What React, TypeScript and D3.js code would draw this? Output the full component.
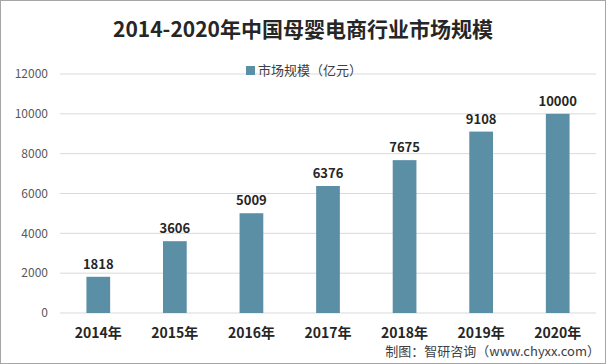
import React, { useEffect, useRef } from 'react';
import * as d3 from 'd3';

const years = ['2014年', '2015年', '2016年', '2017年', '2018年', '2019年', '2020年'];
const marketSize = [1818, 3606, 5009, 6376, 7675, 9108, 10000];
const yTicks = [0, 2000, 4000, 6000, 8000, 10000, 12000];

const FONT = '"Noto Sans CJK SC", "Liberation Sans", sans-serif';

const App = () => {
  const svgRef = useRef<SVGSVGElement>(null);

  useEffect(() => {
    const width = 606;
    const height = 364;
    const margin = { top: 74, right: 10, bottom: 51, left: 60 };

    const svg = d3.select(svgRef.current);
    svg.selectAll('*').remove();

    // border
    svg.append('rect')
      .attr('x', 0.5).attr('y', 0.5)
      .attr('width', width - 1).attr('height', height - 1)
      .attr('fill', '#fff')
      .attr('stroke', '#a6a6a6');

    const xScale = d3.scaleBand()
      .domain(years)
      .range([margin.left, width - margin.right])
      .paddingInner(0.69)
      .paddingOuter(0.345);

    const yScale = d3.scaleLinear()
      .domain([0, 12000])
      .range([height - margin.bottom, margin.top]);

    // gridlines
    svg.append('g')
      .selectAll('line')
      .data(yTicks)
      .join('line')
      .attr('x1', margin.left)
      .attr('x2', width - margin.right)
      .attr('y1', d => yScale(d))
      .attr('y2', d => yScale(d))
      .attr('stroke', '#d9d9d9')
      .attr('stroke-width', 1);

    // y axis labels
    svg.append('g')
      .selectAll('text')
      .data(yTicks)
      .join('text')
      .attr('x', margin.left - 12)
      .attr('y', d => yScale(d))
      .attr('dy', '0.35em')
      .attr('text-anchor', 'end')
      .attr('font-family', FONT)
      .attr('font-size', 12)
      .attr('fill', '#595959')
      .text(d => d);

    // bars
    svg.append('g')
      .selectAll('rect')
      .data(marketSize)
      .join('rect')
      .attr('x', (d, i) => xScale(years[i]) as number)
      .attr('y', d => yScale(d))
      .attr('width', xScale.bandwidth())
      .attr('height', d => yScale(0) - yScale(d))
      .attr('fill', '#5b8fa6');

    // value labels
    svg.append('g')
      .selectAll('text')
      .data(marketSize)
      .join('text')
      .attr('x', (d, i) => (xScale(years[i]) as number) + xScale.bandwidth() / 2)
      .attr('y', d => yScale(d) - 8)
      .attr('text-anchor', 'middle')
      .attr('font-family', FONT)
      .attr('font-size', 13)
      .attr('font-weight', 'bold')
      .attr('fill', '#262626')
      .text(d => d);

    // x axis labels
    svg.append('g')
      .selectAll('text')
      .data(years)
      .join('text')
      .attr('x', d => (xScale(d) as number) + xScale.bandwidth() / 2)
      .attr('y', yScale(0) + 25)
      .attr('text-anchor', 'middle')
      .attr('font-family', FONT)
      .attr('font-size', 14)
      .attr('font-weight', 'bold')
      .attr('fill', '#262626')
      .text(d => d);

    // title
    svg.append('text')
      .attr('x', width / 2)
      .attr('y', 37)
      .attr('text-anchor', 'middle')
      .attr('font-family', FONT)
      .attr('font-size', 21)
      .attr('font-weight', 'bold')
      .attr('fill', '#262626')
      .text('2014-2020年中国母婴电商行业市场规模');

    // legend
    svg.append('rect')
      .attr('x', 246).attr('y', 66)
      .attr('width', 9).attr('height', 9)
      .attr('fill', '#5b8fa6');
    svg.append('text')
      .attr('x', 258)
      .attr('y', 70)
      .attr('dy', '0.35em')
      .attr('font-family', FONT)
      .attr('font-size', 13)
      .attr('fill', '#404040')
      .text('市场规模（亿元）');

    // source
    svg.append('text')
      .attr('x', width - 6)
      .attr('y', 356)
      .attr('text-anchor', 'end')
      .attr('font-family', FONT)
      .attr('font-size', 13)
      .attr('fill', '#404040')
      .text('制图：智研咨询（www.chyxx.com）');
  }, []);

  return (
    <svg ref={svgRef} width={606} height={364} style={{ position: 'absolute', left: 0, top: 0 }}></svg>
  );
};

export default App;
